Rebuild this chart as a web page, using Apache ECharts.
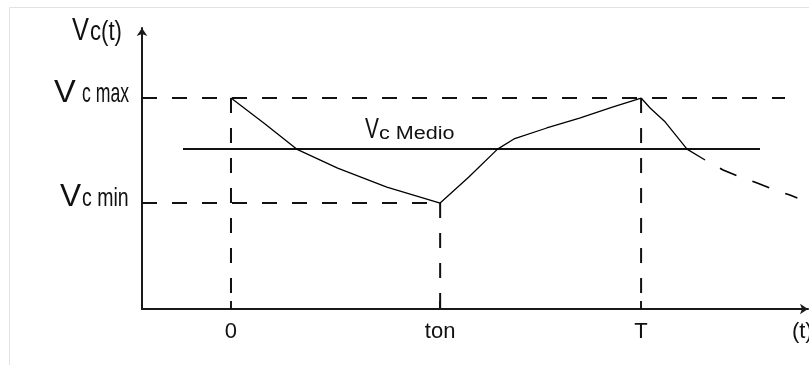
<!DOCTYPE html>
<html>
<head>
<meta charset="utf-8">
<script src="https://cdn.jsdelivr.net/npm/echarts@6/dist/echarts.min.js"></script>
<style>
html,body{margin:0;padding:0;background:#fff;}
#c{width:809px;height:365px;}
</style>
</head>
<body>
<div id="c"></div>
<script>
// ---- data (time units: T = 10, voltage units: Vc max = 10) ----
const X_MIN = -2.17, X_MAX = 14.07;
const Y_MIN = 0, Y_MAX = 13.32;
const T_ON = 5.1, T_PERIOD = 10;
const VC_MAX = 10, VC_MIN = 5.02, VC_MEDIO = 7.58;
const tickValues = [0, T_ON, T_PERIOD];
const tickLabels = ['0', 'ton', 'T'];
const axisNameValue = 13.93;
const axisNameLabel = '(t)';

// discharge 0 -> ton
const decayT = [0, 0.8, 1.6, 2.6, 3.8, 5.1];
const decayV = [10, 8.82, 7.58, 6.68, 5.78, 5.02];
// charge ton -> T
const riseT = [5.1, 5.8, 6.5, 6.9, 7.7, 8.5, 9.3, 10];
const riseV = [5.02, 6.26, 7.58, 8.06, 8.58, 9.05, 9.57, 10];
// discharge after T (solid part)
const fallT = [10, 10.22, 10.59, 11.12, 11.56];
const fallV = [10, 9.53, 8.86, 7.58, 7.06];
// discharge continuation (dashed)
const fallDashT = [11.56, 12.0, 12.41, 12.83, 13.2, 13.63, 13.81];
const fallDashV = [7.06, 6.59, 6.26, 5.97, 5.69, 5.40, 5.26];
// mean line extent
const medioT = [-1.17, 12.9];
// dashed reference lines extents
const vcMaxEndT = 13.51;

const pairs = (ts, vs) => ts.map((t, i) => [t, vs[i]]);

const FONT = '"Liberation Sans", Arial, sans-serif';
const INK = '#111';
const chart = echarts.init(document.getElementById('c'), null, {renderer: 'canvas'});

const dashStyle = {color: '#111', width: 2, type: [15, 15]};
function seg(data, style) {
  return {type: 'line', data: data, symbol: 'none', silent: true,
          lineStyle: style, animation: false, z: 2};
}

chart.setOption({
  animation: false,
  backgroundColor: '#fff',
  grid: {left: 142, right: 1, top: 28, bottom: 56, containLabel: false, outerBoundsMode: 'none'},
  xAxis: {
    type: 'value', min: X_MIN, max: X_MAX,
    splitLine: {show: false},
    axisLine: {show: true, onZero: false, symbol: ['none', 'arrow'], symbolSize: [8, 8],
               lineStyle: {color: '#1a1a1a', width: 2}},
    axisTick: {show: true, inside: true, length: 8, customValues: tickValues,
               lineStyle: {color: '#1a1a1a', width: 2}},
    axisLabel: {
      show: true, margin: 12,
      customValues: tickValues.concat([axisNameValue]),
      formatter: function (v) {
        const i = tickValues.findIndex(x => Math.abs(x - v) < 1e-6);
        return i >= 0 ? tickLabels[i] : axisNameLabel;
      },
      fontSize: 22, fontFamily: FONT, color: INK
    }
  },
  yAxis: {
    type: 'value', min: Y_MIN, max: Y_MAX,
    splitLine: {show: false},
    axisLine: {show: true, onZero: false, symbol: ['none', 'arrow'], symbolSize: [8, 8],
               lineStyle: {color: '#1a1a1a', width: 2}},
    axisTick: {show: false},
    axisLabel: {show: false}
  },
  series: [
    seg([[X_MIN, VC_MAX], [vcMaxEndT, VC_MAX]], dashStyle),
    seg([[X_MIN, VC_MIN], [T_ON, VC_MIN]], dashStyle),
    seg([[0, VC_MAX], [0, 0]], dashStyle),
    seg([[T_ON, VC_MIN], [T_ON, 0]], dashStyle),
    seg([[T_PERIOD, VC_MAX], [T_PERIOD, 0]], dashStyle),
    seg([[medioT[0], VC_MEDIO], [medioT[1], VC_MEDIO]], {color: '#111', width: 2}),
    seg(pairs(decayT, decayV), {color: '#000', width: 1.3}),
    seg(pairs(riseT, riseV), {color: '#000', width: 1.3}),
    seg(pairs(fallT, fallV), {color: '#000', width: 1.3}),
    seg(pairs(fallDashT, fallDashV), {color: '#000', width: 1.6, type: [18, 17], dashOffset: 18})
  ]
});

// text labels placed relative to the axis levels
const yOf = v => chart.convertToPixel({yAxisIndex: 0}, v);
const yMax = yOf(VC_MAX), yMin = yOf(VC_MIN), yMed = yOf(VC_MEDIO), yTop = yOf(Y_MAX);

function txt(text, x, y, size, sx) {
  return {type: 'text', x: x, y: y, scaleX: sx, scaleY: 1, silent: true, z: 10,
          style: {text: text, x: 0, y: 0, fontSize: size, fontFamily: FONT,
                  fill: INK, align: 'left', verticalAlign: 'middle'}};
}

chart.setOption({
  graphic: [
    {type: 'rect', silent: true, z: -10,
     shape: {x: 9.5, y: 7.5, width: 900, height: 400},
     style: {fill: 'none', stroke: '#e2e2e2', lineWidth: 1}},
    // Vc(t)
    txt('V', 72, yTop + 3, 31, 0.82),
    txt('c(t)', 90, yTop + 5, 27, 0.82),
    // Vc max
    txt('V', 54, yMax - 5, 31, 1.05),
    txt('c max', 82, yMax - 4, 28, 0.63),
    // Vc min
    txt('V', 60, yMin - 6, 31, 1.02),
    txt('c min', 82, yMin - 4, 25, 0.78),
    // Vc Medio
    txt('V', 365, yMed - 19.5, 29, 0.72),
    txt('c Medio', 379, yMed - 15, 18, 1.2)
  ]
});
</script>
</body>
</html>
